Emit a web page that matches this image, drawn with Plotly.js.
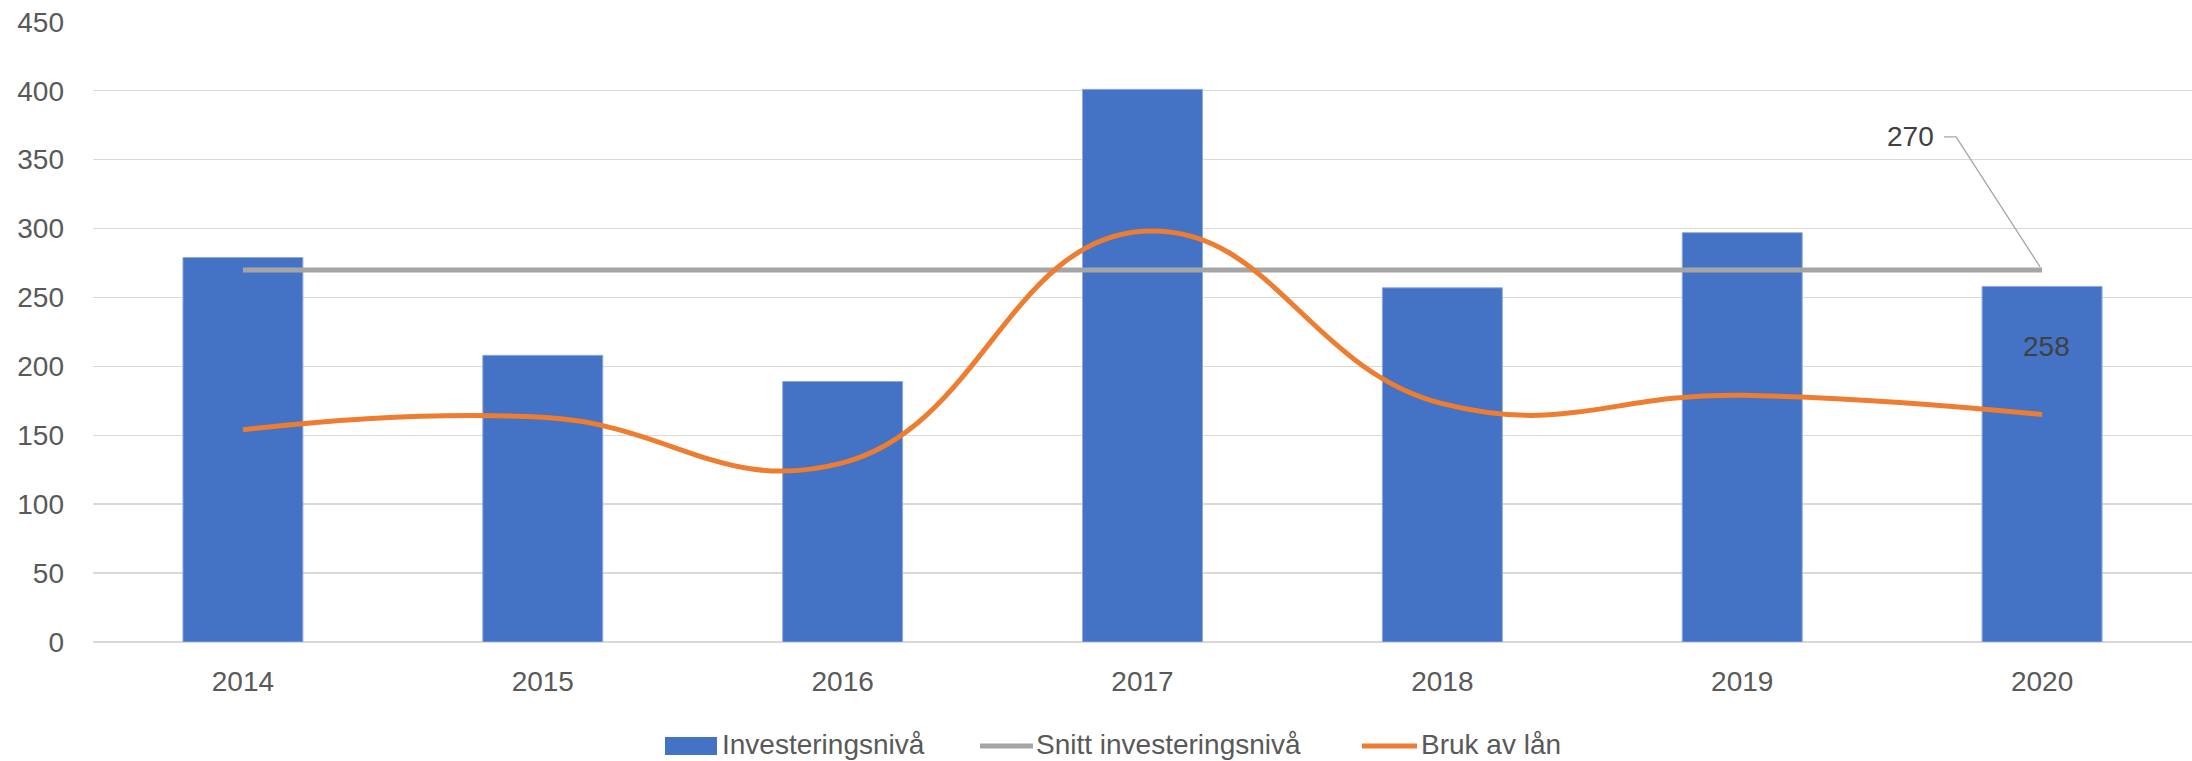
<!DOCTYPE html>
<html>
<head>
<meta charset="utf-8">
<script src="https://cdn.plot.ly/plotly-3.0.1.min.js"></script>
<style>html,body{margin:0;padding:0;background:#fff;}#chart{width:2192px;height:761px;}</style>
</head>
<body>
<div id="chart"></div>
<script>
const years = ['2014','2015','2016','2017','2018','2019','2020'];
const investeringsniva = [279, 208, 189, 401, 257, 297, 258];
const snittInvestering = [270, 270, 270, 270, 270, 270, 270];
const brukAvLan = [154, 163, 130, 298, 173, 179, 165];
const yTicks = [0, 50, 100, 150, 200, 250, 300, 350, 400, 450];
const seriesNames = ['Investeringsnivå', 'Snitt investeringsnivå', 'Bruk av lån'];
const seriesColors = ['#4472C4', '#A5A5A5', '#ED7D31'];

const fontFam = '"Liberation Sans", Arial, sans-serif';
const txtColor = '#595959';

const W = 2192, H = 761;
const M = {l: 93, r: 0, t: 21, b: 119};
const plotW = W - M.l - M.r, plotH = H - M.t - M.b;
const px2x = p => (p - M.l) / plotW;
const px2y = p => (H - M.b - p) / plotH;

const traces = [
  {
    type: 'bar', name: seriesNames[0], x: years, y: investeringsniva,
    marker: {color: seriesColors[0], line: {color: '#8FAADC', width: 1}},
    showlegend: false
  },
  {
    type: 'scatter', mode: 'lines', name: seriesNames[1], x: years, y: snittInvestering,
    line: {color: seriesColors[1], width: 5}, showlegend: false
  },
  {
    type: 'scatter', mode: 'lines', name: seriesNames[2], x: years, y: brukAvLan,
    line: {color: seriesColors[2], width: 5, shape: 'spline', smoothing: 1.3}, showlegend: false
  }
];

const lastIdx = years.length - 1;

// custom legend (Excel style): swatch pixel spans and text start
const legendY = 746;
const legendTextY = 744;
const legendItems = [
  {kind: 'rect', x0: 665, x1: 717, text: 722},
  {kind: 'line', x0: 980, x1: 1033, text: 1036},
  {kind: 'line', x0: 1362, x1: 1417, text: 1421}
];

const shapes = [
  {
    type: 'path', xref: 'x', yref: 'y',
    xsizemode: 'pixel', ysizemode: 'pixel',
    xanchor: lastIdx, yanchor: snittInvestering[lastIdx],
    path: 'M -98 133 L -86 133 L -2 3',
    line: {color: '#A5A5A5', width: 1.3}
  }
];
const annotations = [
  {
    x: lastIdx, y: snittInvestering[lastIdx], xref: 'x', yref: 'y',
    text: String(snittInvestering[lastIdx]), showarrow: false,
    xshift: -132, yshift: 133,
    font: {family: fontFam, size: 28, color: '#404040'}
  },
  {
    x: lastIdx, y: investeringsniva[lastIdx], xref: 'x', yref: 'y',
    text: String(investeringsniva[lastIdx]), showarrow: false,
    xshift: 4, yshift: -60,
    font: {family: fontFam, size: 28, color: '#404040'}
  }
];

legendItems.forEach((it, i) => {
  if (it.kind === 'rect') {
    shapes.push({type: 'rect', xref: 'paper', yref: 'paper',
      x0: px2x(it.x0), x1: px2x(it.x1), y0: px2y(legendY + 9), y1: px2y(legendY - 9),
      fillcolor: seriesColors[i], line: {width: 0}});
  } else {
    shapes.push({type: 'line', xref: 'paper', yref: 'paper',
      x0: px2x(it.x0), x1: px2x(it.x1), y0: px2y(legendY), y1: px2y(legendY),
      line: {color: seriesColors[i], width: 5}});
  }
  annotations.push({xref: 'paper', yref: 'paper', x: px2x(it.text), y: px2y(legendTextY),
    xanchor: 'left', yanchor: 'middle', showarrow: false, text: seriesNames[i],
    borderpad: 0, borderwidth: 0,
    font: {family: fontFam, size: 28, color: txtColor}});
});

const layout = {
  width: W, height: H,
  margin: {l: M.l, r: M.r, t: M.t, b: M.b, autoexpand: false},
  paper_bgcolor: '#ffffff', plot_bgcolor: '#ffffff',
  font: {family: fontFam, size: 28, color: txtColor},
  bargap: 0.6,
  showlegend: false,
  xaxis: {
    type: 'category', categoryorder: 'array', categoryarray: years,
    range: [-0.5, lastIdx + 0.5], autorange: false,
    showgrid: false, zeroline: false, showline: false, ticks: '',
    ticklabelstandoff: 20,
    tickfont: {family: fontFam, size: 28, color: txtColor}
  },
  yaxis: {
    range: [0, 450.6], autorange: false, tickvals: yTicks, ticktext: yTicks.map(String),
    showgrid: true, gridcolor: '#D9D9D9', gridwidth: 1.5,
    zeroline: true, zerolinecolor: '#D9D9D9', zerolinewidth: 1.5,
    showline: false, ticks: '', ticklabelstandoff: 28,
    tickfont: {family: fontFam, size: 28, color: txtColor}
  },
  annotations: annotations,
  shapes: shapes
};

Plotly.newPlot('chart', traces, layout, {staticPlot: true, displayModeBar: false});
</script>
</body>
</html>
